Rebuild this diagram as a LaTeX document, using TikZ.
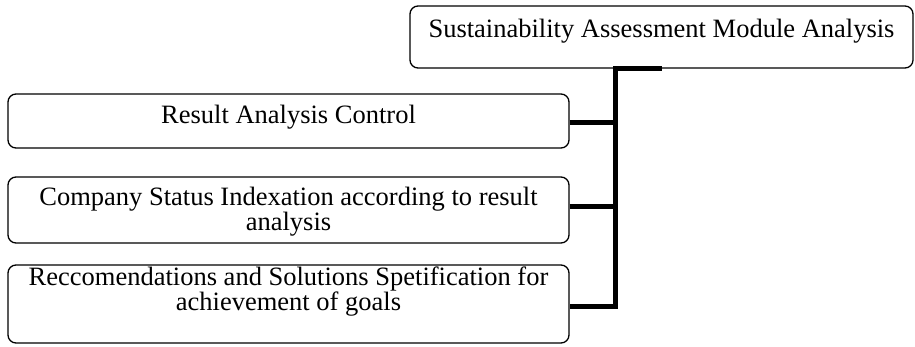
\documentclass[tikz,border=0pt]{standalone}
\usepackage{fontspec}
\setmainfont{Liberation Serif}
\begin{document}
\begin{tikzpicture}[x=1pt,y=-1pt,
  box/.style={draw=black, line width=1.3pt, rounded corners=8pt, inner sep=0pt},
  txt/.style={anchor=base, inner sep=0pt, font=\fontsize{26.5}{25}\selectfont},
  conn/.style={draw=black, line width=5pt}]
\useasboundingbox (0,0) rectangle (915,346);
\node[box, minimum width=503pt, minimum height=62pt] (top) at (661.5,37) {};
\node[box, minimum width=561pt, minimum height=54pt] (b1) at (288.5,121) {};
\node[box, minimum width=561pt, minimum height=66pt] (b2) at (288.5,210) {};
\node[box, minimum width=561pt, minimum height=78pt] (b3) at (288.5,304) {};
\node[txt] (t0) at (661.5,37) {Sustainability Assessment Module Analysis};
\node[txt] (t1) at (288.5,123) {Result Analysis Control};
\node[txt] (t2a) at (288.5,205) {Company Status Indexation according to result};
\node[txt] (t2b) at (288.5,230) {analysis};
\node[txt] (t3a) at (288.5,285) {Reccomendations and Solutions Spetification for};
\node[txt] (t3b) at (288.5,310) {achievement of goals};
\draw[conn] (top.south) -- ++(-46,0) coordinate (bt) |- ([yshift=-2pt]b3.east);
\draw[conn] ([yshift=-1pt]b1.east) -- ([yshift=-1pt]b1.east -| bt);
\draw[conn] ([yshift=4pt]b2.east) -- ([yshift=4pt]b2.east -| bt);
\end{tikzpicture}
\end{document}
